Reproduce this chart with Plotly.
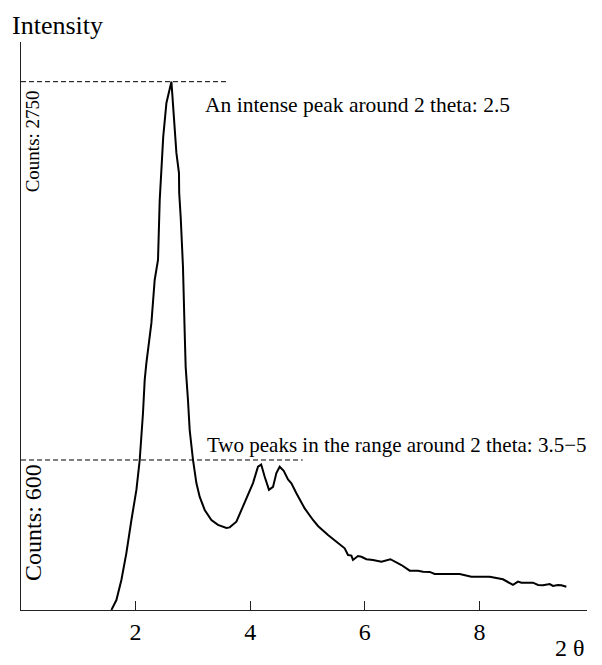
import plotly.graph_objects as go

# Data
two_theta = [1.578, 1.665, 1.752, 1.839, 1.927, 2.014, 2.072, 2.101, 2.129, 2.159,
             2.188, 2.276, 2.304, 2.333, 2.391, 2.421, 2.482, 2.499, 2.538, 2.625,
             2.653, 2.712, 2.757, 2.761, 2.787, 2.799, 2.827, 2.857, 2.874, 2.914,
             2.944, 3.002, 3.061, 3.119, 3.206, 3.323, 3.438, 3.585, 3.642, 3.759,
             3.904, 4.049, 4.136, 4.192, 4.253, 4.328, 4.398, 4.457, 4.515, 4.585,
             4.660, 4.719, 4.806, 4.951, 5.096, 5.183, 5.358, 5.504, 5.649, 5.707,
             5.766, 5.794, 5.881, 5.941, 6.028, 6.143, 6.290, 6.447, 6.639, 6.784,
             6.928, 7.016, 7.133, 7.220, 7.656, 7.860, 8.180, 8.412, 8.586, 8.674,
             8.733, 8.935, 9.023, 9.110, 9.227, 9.284, 9.372, 9.431, 9.518]
counts = [-252, -196, -82, 71, 259, 430, 600, 731, 867, 1055,
          1151, 1379, 1526, 1623, 1737, 2078, 2436, 2492, 2629, 2750,
          2629, 2345, 2231, 2117, 1981, 1890, 1697, 1322, 1128, 941,
          770, 600, 469, 390, 316, 259, 231, 214, 217, 249,
          356, 469, 562, 574, 505, 430, 447, 526, 562, 539,
          490, 468, 411, 325, 259, 225, 174, 136, 98, 60,
          57, 32, 54, 50, 36, 32, 22, 36, 3, -29,
          -29, -35, -36, -48, -48, -63, -63, -78, -110, -91,
          -97, -97, -110, -112, -105, -116, -110, -112, -120]
x_ticks = [2, 4, 6, 8]
x_tick_labels = ["2", "4", "6", "8"]
ref_levels = [2750, 600]
ref_line_ends = [3.59, 4.916]
ref_labels = ["Counts: 2750", "Counts: 600"]
notes = ["An intense peak around 2 theta: 2.5",
         "Two peaks in the range around 2 theta: 3.5\u22125"]

FONT = "Liberation Serif, Times New Roman, serif"

fig = go.Figure()
fig.add_trace(go.Scatter(x=two_theta, y=counts, mode="lines",
                         line=dict(color="black", width=2), showlegend=False,
                         hoverinfo="skip"))

shapes = []
for lvl, xe in zip(ref_levels, ref_line_ends):
    shapes.append(dict(type="line", xref="x", yref="y", x0=0, x1=xe, y0=lvl, y1=lvl,
                       line=dict(color="black", width=1, dash="5px,3px")))

annotations = [
    dict(text=notes[0], xref="x", yref="y", x=3.176, y=2620, xanchor="left",
         yanchor="middle", showarrow=False, font=dict(size=21.5, family=FONT, color="black")),
    dict(text=notes[1], xref="x", yref="y", x=3.206, y=683, xanchor="left",
         yanchor="middle", showarrow=False, font=dict(size=21, family=FONT, color="black")),
    dict(text=ref_labels[0], xref="x", yref="y", x=0.215, y=2413, textangle=-90,
         xanchor="center", yanchor="middle", showarrow=False,
         font=dict(size=19, family=FONT, color="black")),
    dict(text=ref_labels[1], xref="x", yref="y", x=0.217, y=245, textangle=-90,
         xanchor="center", yanchor="middle", showarrow=False,
         font=dict(size=24, family=FONT, color="black")),
    dict(text="Intensity", xref="paper", yref="paper", x=-0.0194, y=1.0282,
         xanchor="left", yanchor="middle", showarrow=False,
         font=dict(size=26, family=FONT, color="black")),
    dict(text="2 \u03b8", xref="paper", yref="paper", x=1.0, y=-0.0669,
         xanchor="right", yanchor="middle", showarrow=False,
         font=dict(size=24, family=FONT, color="black")),
]

fig.update_layout(
    width=602, height=665,
    margin=dict(l=21, r=15, t=42, b=55, pad=0),
    paper_bgcolor="white", plot_bgcolor="white",
    shapes=shapes, annotations=annotations,
    xaxis=dict(range=[0, 9.878], showline=True, linecolor="#222", linewidth=1.3,
               showgrid=False, zeroline=False, ticks="inside", ticklen=9,
               tickcolor="#222", tickwidth=1.3, tickvals=x_ticks, ticktext=x_tick_labels,
               tickfont=dict(size=24, family=FONT, color="black")),
    yaxis=dict(range=[-252.5, 2975.5], showline=True, linecolor="#222", linewidth=1.3,
               showgrid=False, zeroline=False, showticklabels=False, ticks=""),
)

fig.write_html("out.html")
